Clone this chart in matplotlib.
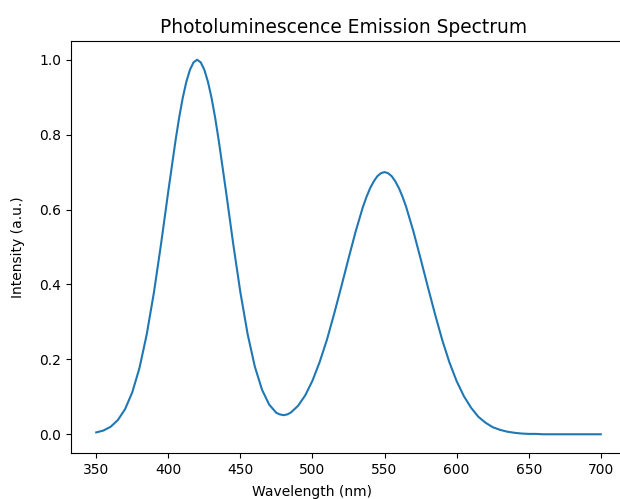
import matplotlib
matplotlib.use("Agg")
import matplotlib.pyplot as plt

# wavelength (nm) and intensity
# (half steps added round the two peaks and the dip so the tops stay round)
wavelength = [
    350, 355, 360, 365, 370, 375, 380, 385, 390, 395, 400,
    405, 407.5, 410, 412.5, 415, 417.5, 420, 422.5, 425, 427.5, 430, 432.5, 435,
    440, 445, 450, 455, 460, 465, 470, 475, 477.5, 480, 482.5, 485, 490, 495,
    500, 505, 510, 515, 520, 525, 530, 535,
    537.5, 540, 542.5, 545, 547.5, 550, 552.5, 555, 557.5, 560, 562.5, 565,
    570, 575, 580, 585, 590, 595, 600, 605, 610, 615, 620, 625, 630, 635,
    640, 645, 650, 655, 660, 670, 680, 690, 700,
]
intensity = [
    0.005, 0.010, 0.020, 0.038, 0.067, 0.112, 0.177, 0.266, 0.378, 0.509, 0.649,
    0.784, 0.845, 0.898, 0.941, 0.973, 0.993, 1.000, 0.993, 0.973, 0.941, 0.898, 0.845, 0.784,
    0.649, 0.509, 0.379, 0.268, 0.181, 0.119, 0.079, 0.057, 0.053, 0.051, 0.053, 0.058, 0.076, 0.104,
    0.143, 0.193, 0.252, 0.321, 0.394, 0.469, 0.542, 0.607,
    0.634, 0.657, 0.675, 0.689, 0.697, 0.700, 0.697, 0.689, 0.675, 0.657, 0.634, 0.607,
    0.542, 0.469, 0.394, 0.321, 0.252, 0.192, 0.142, 0.102, 0.071, 0.047, 0.031, 0.019, 0.012, 0.007,
    0.004, 0.002, 0.001, 0.001, 0.000, 0.000, 0.000, 0.000, 0.000,
]

fig = plt.figure(figsize=(6.2, 4.99), dpi=100)
ax = fig.add_axes([71 / 620, 46 / 499, 555 / 620, 412 / 499])

ax.plot(wavelength, intensity, color="#1f77b4", linewidth=1.5)
ax.spines["right"].set_visible(False)

ax.set_title("Photoluminescence Emission Spectrum", fontsize=13.4, x=0.492)
ax.set_xlabel("Wavelength (nm)", x=0.434, labelpad=6)
ax.set_ylabel("Intensity (a.u.)", labelpad=10)

fig.savefig("out.png", dpi=100)
